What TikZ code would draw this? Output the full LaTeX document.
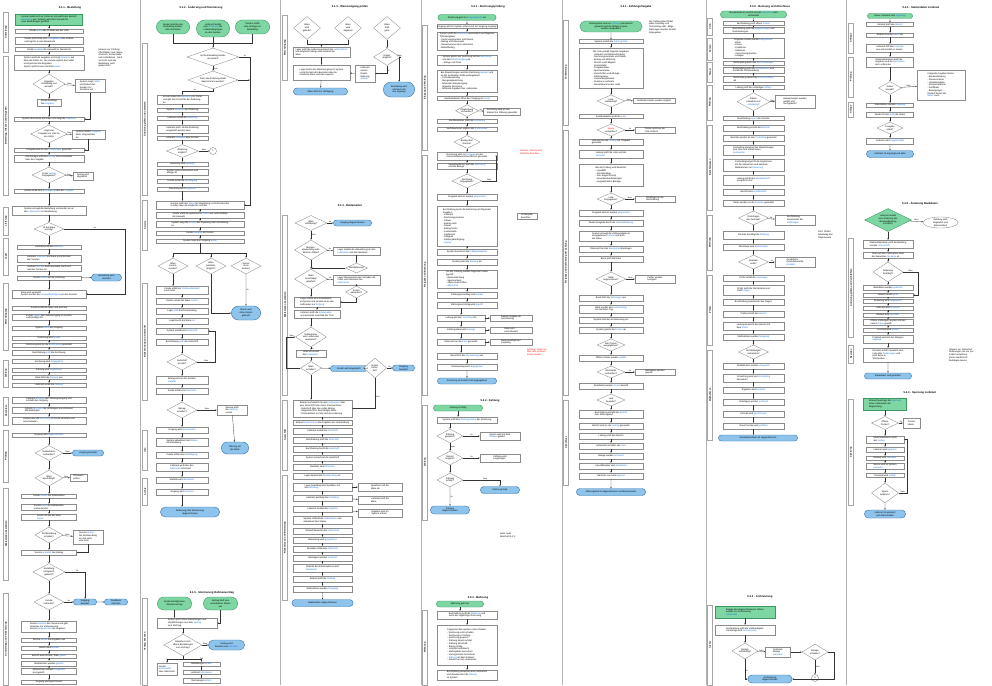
\documentclass[tikz,border=0pt]{standalone}
\usepackage{fontspec}
\setmainfont{Liberation Sans}
\usetikzlibrary{shapes.geometric,shapes.misc,arrows.meta}
\definecolor{gstart}{RGB}{126,214,162}
\definecolor{gline}{RGB}{60,150,100}
\definecolor{bend}{RGB}{142,196,236}
\definecolor{bline}{RGB}{50,110,170}
\definecolor{lkb}{RGB}{22,112,222}
\newcommand\ft{\fontsize{2.3}{2.75}\selectfont}
\newcommand\lk[1]{\textcolor{lkb}{#1}}
\begin{document}
\begin{tikzpicture}[x=1pt, y=-1pt,
  box/.style={draw=black!45, line width=0.35pt, fill=white, inner sep=0.4pt, align=left, font=\ft},
  bx/.style 2 args={box, minimum width=#1, minimum height=#2},
  dec/.style 2 args={diamond, shape aspect=2, draw=black!45, line width=0.35pt, fill=white, inner sep=0pt, align=center, font=\ft, minimum width=#1, minimum height=#2},
  startg/.style 2 args={rounded rectangle, draw=gline, fill=gstart, line width=0.4pt, inner sep=0.4pt, align=center, font=\ft, minimum width=#1, minimum height=#2},
  startr/.style 2 args={rectangle, draw=gline, fill=gstart, line width=0.4pt, inner sep=0.4pt, align=left, font=\ft, minimum width=#1, minimum height=#2},
  startd/.style 2 args={dec={#1}{#2}, draw=gline, fill=gstart},
  endb/.style 2 args={rounded rectangle, draw=bline, fill=bend, line width=0.4pt, inner sep=0.4pt, align=center, font=\ft, minimum width=#1, minimum height=#2},
  endw/.style 2 args={ellipse, draw=black!45, line width=0.35pt, inner sep=0pt, align=center, font=\ft, minimum width=#1, minimum height=#2},
  conn/.style={circle, draw=black!50, line width=0.35pt, minimum size=7, inner sep=0pt, font=\ft},
  lane/.style={draw=black!35, line width=0.3pt, rotate=90, minimum width=#1, minimum height=5, inner sep=0.2pt, font=\ft\bfseries},
  ttl/.style={font=\fontsize{2.7}{3.2}\selectfont\bfseries},
  note/.style={font=\ft, align=left, text width=#1, inner sep=0pt},
  rnote/.style={note=#1, text=red},
  lbl/.style={font=\fontsize{2}{2.4}\selectfont, inner sep=0.3pt},
  arr/.style={draw=black!80, line width=0.3pt, -{Stealth[length=1.6pt,width=1.3pt]}},
  line/.style={draw=black!80, line width=0.3pt},
  sep/.style={draw=black!30, line width=0.5pt}
]
\useasboundingbox (0,0) rectangle (992,685);
\foreach \sx in {140,280,421,562,706,846} \draw[sep] (\sx,0) -- (\sx,685);

% ---------- Spalte 1
\node[ttl] (t1) at (70,8) {5.1.1 - Bestellung};
\node[startr={67}{11}] (a0) at (49,19.5) {Kunde meldet sich im Portal an und wählt den Bereich\\ \lk{Bestellung} aus. Danach wird das Formular für\\ neue Bestellungen geöffnet};
\node[bx={68}{4.5}] (a1) at (49,31) {Kunde \lk{wählt} das Produkt aus der Liste};
\node[bx={68}{7}] (a2) at (49,40.5) {Kunde prüft Preis und \lk{Verfügbarkeit} des Artikels\\ und legt ihn in den Warenkorb};
\node[bx={68}{4}] (a3) at (49,49.5) {Kunde \lk{bestätigt} die Auswahl im Warenkorb};
\node[bx={70}{15}] (a4) at (49,62.5) {System prüft die Angaben und zeigt \lk{Hinweise} auf\\ fehlende Daten an. Der Kunde ergänzt die Felder\\ und speichert die Eingaben.\\ System prüft erneut und leitet \lk{weiter}};
\node[dec={32}{20}] (a5) at (49,84) {Angaben\\ vollständig und\\ korrekt?};
\node[bx={30}{13}] (a5r) at (90,86) {System zeigt \lk{Fehler}\\ und fordert den\\ Kunden zur\\ Korrektur auf};
\node[note=37pt] (n1) at (117,58) {Hinweis zur Prüfung:\\ Pflichtfelder sind Name,\\ Anschrift, Kostenstelle\\ und Lieferdatum. Fehlt\\ ein Feld, wird die\\ Bestellung nicht\\ gespeichert};
\node[bx={24}{7}] (a6) at (49,102.5) {Kunde bestätigt\\ die \lk{Eingaben}};
\node[bx={70}{4}] (a7) at (49,119) {System übernimmt die Daten und zeigt die \lk{Übersicht}};
\node[dec={34}{18}] (a8) at (49,134) {Liegt eine\\ Freigabe vor oder ist\\ sie nötig?};
\node[bx={33}{9}] (a8r) at (88.5,134.5) {System fordert \lk{Freigabe}\\ beim Vorgesetzten\\ an};
\node[bx={70}{4}] (a9) at (49,150) {Freigabe wird an den \lk{Genehmiger} gesendet};
\node[bx={70}{7}] (a10) at (49,158.5) {Genehmiger prüft den \lk{Antrag} und entscheidet\\ über die Freigabe};
\node[dec={34}{16}] (a11) at (49,175) {Ist der \lk{Antrag}\\ freigegeben?};
\node[bx={20}{8}] (a11r) at (83,176) {Antrag wird\\ abgelehnt};
\node[bx={70}{4}] (a12) at (49,191) {Kunde erhält eine \lk{Bestätigung} über die \lk{Freigabe}};
\node[bx={74}{9}] (a13) at (49,210.5) {System erzeugt die Bestellung und sendet sie an\\ den \lk{Lieferanten} zur Bearbeitung};
\node[dec={30}{13}] (a14) at (49,229) {Ist die Ware\\ vorrätig?};
\coordinate (a14c) at (125,229);
\node[bx={64}{4}] (a15) at (49,247) {Lieferant prüft den \lk{Bestand}};
\node[bx={64}{7}] (a16) at (49,258.5) {Lieferant \lk{reserviert} die Ware und informiert\\ den Kunden};
\node[bx={64}{6}] (a17a) at (49,268) {Lieferant \lk{bestellt} beim Hersteller nach und\\ teilt den Termin mit};
\node[bx={64}{4}] (a17) at (49,278) {Kunde \lk{wartet} auf die Lieferung};
\node[endb={31}{7}] (a17r) at (106.5,277.5) {Bestellung wird\\ storniert};
\node[bx={74}{8}] (a18) at (49,294) {Ware wird versandt.\\ System sendet die \lk{Versandbestätigung} an den Kunden};
\node[bx={74}{4}] (a19) at (49,308) {Kunde erhält die Ware und prüft sie};
\node[bx={74}{6}] (a20) at (49,317) {Kunde \lk{meldet} den Wareneingang im System\\ und bestätigt ihn};
\node[bx={74}{4}] (a21) at (49,328) {System \lk{bucht} den Eingang};
\node[bx={74}{4}] (a22) at (49,338) {Rechnung wird \lk{erstellt}};
\node[bx={74}{4}] (a23) at (49,345) {Rechnung wird an die \lk{Buchhaltung} gesendet};
\node[bx={74}{5}] (a24) at (49,352.5) {Buchhaltung \lk{prüft} die Rechnung};
\node[bx={74}{4}] (a25) at (49,361.5) {Rechnung wird \lk{freigegeben}};
\node[bx={74}{4}] (a26) at (49,370) {Zahlung wird \lk{angewiesen}};
\node[bx={74}{4}] (a27) at (49,377.5) {Bank führt die \lk{Zahlung} aus};
\node[bx={74}{4}] (a28) at (49,385) {Lieferant erhält die \lk{Zahlung}};
\node[bx={74}{6}] (a29) at (49,400) {Lieferant \lk{bestätigt} den Zahlungseingang und\\ schließt den Vorgang};
\node[bx={74}{6}] (a30) at (49,410) {System \lk{archiviert} die Unterlagen und informiert\\ alle Beteiligten};
\node[bx={74}{7}] (a31) at (49,420.5) {Kunde kann die \lk{Rechnung} im Portal einsehen und\\ herunterladen};
\node[bx={74}{4}] (a32) at (49,435) {Vorgang wird \lk{abgeschlossen}};
\node[dec={28}{15}] (a33) at (49,453) {Reklamation\\ vorhanden?};
\node[endb={32}{6}] (a33r) at (88,453) {Vorgang beendet};
\node[dec={28}{16}] (a34) at (49,478) {Ware\\ beschädigt?};
\node[bx={17}{7}] (a34r) at (78.5,477.5) {Umtausch\\ prüfen};
\node[bx={55}{4}] (a35) at (49,496) {Kunde \lk{meldet} die Reklamation};
\node[bx={55}{6}] (a36) at (49,507) {Service \lk{prüft} die Reklamation\\ und antwortet};
\node[bx={55}{6}] (a37) at (49,517) {Kunde sendet die Ware\\ \lk{zurück}};
\node[dec={28}{16}] (a38) at (49,535) {Rücksendung\\ erhalten?};
\node[bx={30}{14}] (a38r) at (88,537) {Service \lk{mahnt}\\ die Rücksendung\\ an und setzt\\ eine Frist};
\node[bx={55}{5}] (a39) at (49,552.5) {Service \lk{erstattet} den Betrag};
\node[dec={32}{17}] (a40) at (49,572) {Erstattung\\ erfolgreich\\ gebucht?};
\node[dec={30}{16}] (a41) at (49,602) {Kunde\\ zufrieden?};
\node[endb={24}{6}] (a41r) at (85,602) {Vorgang\\ beendet};
\node[endb={24}{6}] (a41s) at (116,602) {Feedback\\ einholen};
\node[bx={55}{11}] (a42) at (49,626.5) {Kunde \lk{bewertet} den Service und gibt\\ Hinweise zur Verbesserung.\\ Service \lk{dokumentiert} die Angaben};
\node[bx={55}{4}] (a43) at (49,640) {Service \lk{wertet} die Angaben aus};
\node[bx={55}{4}] (a44) at (49,648) {Bericht wird \lk{erstellt}};
\node[bx={55}{4}] (a45) at (49,656) {Bericht wird mit dem Team \lk{geteilt}};
\node[bx={55}{5}] (a46) at (49,663.5) {Maßnahmen werden \lk{geplant}};
\node[bx={55}{6}] (a47) at (49,671.5) {Maßnahmen werden \lk{umgesetzt}\\ und geprüft};
\node[bx={55}{4}] (a48) at (49,682) {Vorgang wird geschlossen};

\node[lane=40] (l1a) at (6,32) {Anmeldung};
\node[lane=139] (l1b) at (6,125.5) {Bestellung erfassen und freigeben};
\node[lane=28] (l1c) at (6,221) {Lieferung};
\node[lane=37] (l1d) at (6,256.5) {Lager};
\node[lane=67] (l1e) at (6,316.5) {Wareneingang};
\node[lane=27] (l1f) at (6,373.5) {Zahlung};
\node[lane=28] (l1g) at (6,411) {Abschluss};
\node[lane=52] (l1h) at (6,456) {Prüfung};
\node[lane=92] (l1i) at (6,534) {Reklamation bearbeiten};
\node[lane=92] (l1j) at (6,639) {Auswertung und Verbesserung};

\foreach \a/\b in {a0/a1,a1/a2,a2/a3,a3/a4,a4/a5,a5/a6,a6/a7,a7/a8,a8/a9,a9/a10,a10/a11,a11/a12,a12/a13,a13/a14,a14/a15,a15/a16,a16/a17a,a17a/a17,a17/a18,a18/a19,a19/a20,a20/a21,a21/a22,a22/a23,a23/a24,a24/a25,a25/a26,a26/a27,a27/a28,a28/a29,a29/a30,a30/a31,a31/a32,a32/a33,a33/a34,a34/a35,a35/a36,a36/a37,a37/a38,a38/a39,a39/a40,a40/a41,a41/a42,a42/a43,a43/a44,a44/a45,a45/a46,a46/a47,a47/a48}
  \draw[arr] (\a) -- (\b);
\draw[arr] (a5) -- node[lbl, above] (la5) {Nein} (a5r);
\draw[arr] (a5r.south) |- (a7.east);
\draw[arr] (a8) -- node[lbl, above] (la8) {Nein} (a8r);
\draw[arr] (a8r.south) |- (a9.east);
\draw[arr] (a11) -- node[lbl, above] (la11) {Nein} (a11r);
\draw[arr] (a14.east) -- node[lbl, above] (la14) {Ja} (a14c) |- (a18.east);
\draw[arr] (a17) -- (a17r);
\draw[arr] (a33) -- node[lbl, above] (la33) {Nein} (a33r);
\draw[arr] (a34) -- node[lbl, above] (la34) {Nein} (a34r);
\draw[arr] (a38) -- node[lbl, above] (la38) {Nein} (a38r);
\draw[arr] (a38r.south) |- (a39.east);
\draw[arr] (a40.east) -| node[lbl, above, pos=0.3] (la40) {Ja} (a41r.north);
\draw[arr] (a41) -- node[lbl, above] (la41) {Ja} (a41r);
\draw[arr] (a41r) -- (a41s);

% ---------- Spalte 2
\node[ttl] (t2) at (201,8) {5.1.2 - Änderung und Stornierung};
\node[startg={34}{14}] (b0a) at (173,27) {Kunde möchte eine\\ Bestellung ändern\\ oder stornieren};
\node[startg={34}{17}] (b0b) at (213,28.5) {Lieferant meldet\\ eine \lk{Änderung} der\\ Lieferbedingungen\\ an den Kunden};
\node[startg={35}{14}] (b0c) at (252.5,27) {Service erhält\\ eine Anfrage zur\\ Bestellung};
\coordinate (b0m) at (213,43);
\node[dec={52}{18}] (b1) at (213,57) {Ist die Bestellung bereits\\ versendet?};
\coordinate (b1c) at (250,57);
\node[dec={50}{18}] (b2) at (213,80) {Kann die Änderung direkt\\ übernommen werden?};
\node[bx={51}{9}] (b3) at (182.5,99.5) {Kunde ändert die \lk{Bestellung} im Portal\\ und gibt den Grund für die Änderung\\ an};
\node[bx={51}{4}] (b4) at (182.5,110) {System \lk{speichert} die Änderung};
\node[bx={51}{4}] (b5) at (182.5,118) {Lieferant erhält die \lk{Änderung}};
\node[bx={51}{8}] (b6) at (182.5,129) {Lieferant prüft, ob die Änderung\\ umgesetzt werden kann};
\node[bx={51}{4}] (b7) at (182.5,138) {Lieferant \lk{antwortet} dem Kunden};
\node[dec={32}{13}] (b8) at (182.5,151) {Änderung\\ möglich?};
\node[conn] (b8c) at (213,151) {1};
\node[bx={51}{4}] (b9) at (182.5,164) {Änderung wird \lk{bestätigt}};
\node[bx={51}{6}] (b10) at (182.5,172) {System passt Liefertermin und\\ Menge an};
\node[bx={51}{4}] (b11) at (182.5,181) {Kunde erhält die \lk{Bestätigung}};
\node[bx={51}{4}] (b12) at (182.5,189) {Rechnung wird \lk{angepasst}};
\node[bx={88}{8}] (b13) at (200,205) {Service prüft den \lk{Stand} der Bestellung und informiert den\\ Kunden über die möglichen Schritte};
\node[bx={88}{6}] (b14) at (200,215) {Kunde wählt die gewünschte \lk{Option} aus und bestätigt\\ die Auswahl};
\node[bx={88}{6}] (b15) at (200,224) {System zeigt die \lk{Kosten} der Änderung oder Stornierung\\ an};
\node[bx={88}{4}] (b16) at (200,233) {Kunde \lk{bestätigt} die Kosten};
\node[bx={88}{4}] (b17) at (200,241) {System leitet den Vorgang \lk{weiter}};
\coordinate (b17m) at (200,253);
\node[dec={30}{16}] (b18) at (173,266) {Ware\\ zurück-\\ senden?};
\node[dec={30}{16}] (b19) at (211,266) {Ware\\ behalten\\ möglich?};
\node[dec={30}{16}] (b20) at (246,266) {Storno\\ ohne\\ Kosten?};
\node[endb={30}{14}] (b21) at (246,313) {Storno wird\\ ohne Kosten\\ gebucht};
\node[bx={52}{8}] (b22) at (182,290) {Kunde erhält ein \lk{Rücksendeetikett}\\ per E-Mail};
\node[bx={52}{6}] (b23) at (182,301) {Kunde sendet die Ware \lk{zurück}};
\node[bx={52}{6}] (b24) at (182,311) {Lager \lk{prüft} die Rücksendung};
\node[bx={52}{6}] (b25) at (182,321) {Lager bucht die Ware \lk{ein}};
\node[bx={52}{6}] (b26) at (182,331) {System erstellt eine \lk{Gutschrift}};
\node[bx={52}{6}] (b27) at (182,342) {Buchhaltung \lk{prüft} die Gutschrift};
\node[dec={30}{16}] (b28) at (182,362) {Gutschrift\\ korrekt?};
\node[bx={52}{8}] (b29) at (182,380) {Betrag wird an den Kunden\\ \lk{erstattet}};
\node[bx={52}{6}] (b30) at (182,391) {Kunde erhält eine \lk{Nachricht}};
\node[dec={30}{16}] (b31) at (182,410) {Betrag\\ erhalten?};
\node[bx={30}{10}] (b32) at (232,410) {Service prüft\\ die \lk{Zahlung}\\ erneut};
\node[endb={28}{12}] (b33) at (235,448) {Klärung mit\\ der Bank};
\node[bx={52}{6}] (b34) at (182,430) {Vorgang wird \lk{dokumentiert}};
\node[bx={52}{8}] (b35) at (182,442) {System aktualisiert den \lk{Status}\\ der Bestellung};
\node[bx={52}{6}] (b36) at (182,455) {Kunde erhält eine \lk{Bestätigung}};
\node[bx={52}{8}] (b37) at (182,467) {Lieferant wird über den\\ \lk{Abschluss} informiert};
\node[bx={52}{6}] (b38) at (182,480) {Statistik wird \lk{aktualisiert}};
\node[bx={52}{6}] (b39) at (182,492) {Vorgang wird \lk{archiviert}};
\node[endb={60}{10}] (b40) at (190,512) {Änderung oder Stornierung\\ abgeschlossen};

\node[lane=152] (l2a) at (145,119) {Änderung prüfen und umsetzen};
\node[lane=50] (l2b) at (145,225) {Service};
\node[lane=117] (l2c) at (145,341.5) {Rücksendung und Gutschrift};
\node[lane=40] (l2d) at (145,450) {Info};
\node[lane=27] (l2e) at (145,491.5) {Archiv};

\draw[line] (b0a.south) |- (b0m);
\draw[line] (b0c.south) |- (b0m);
\draw[arr] (b0b.south) -- (b1.north);
\draw[arr] (b1) -- node[lbl, right] (lb1) {Nein} (b2);
\draw[arr] (b1.east) -- node[lbl, above] (lb1j) {Ja} (b1c) |- (b13.east);
\draw[arr] (b2.east) -- (b2.east -| b1c);
\draw[arr] (b2.south) -- ++(0,2) -| node[lbl, above, pos=0.3] (lb2) {Ja} (b3.north);
\foreach \a/\b in {b3/b4,b4/b5,b5/b6,b6/b7,b7/b8,b8/b9,b9/b10,b10/b11,b11/b12,b13/b14,b14/b15,b15/b16,b16/b17,b22/b23,b23/b24,b24/b25,b25/b26,b26/b27,b27/b28,b28/b29,b29/b30,b30/b31,b31/b34,b34/b35,b35/b36,b36/b37,b37/b38,b38/b39}
  \draw[arr] (\a) -- (\b);
\draw[arr] (b8) -- node[lbl, above] (lb8) {Nein} (b8c);
\draw[arr] (b12.south) -- (b12.south |- b13.north);
\draw[line] (b17.south) -- (b17m);
\draw[arr] (b17m) -| (b18.north);
\draw[arr] (b17m) -| (b20.north);
\draw[arr] (b19.north |- b17m) -- (b19.north);
\draw[arr] (b20) -- node[lbl, right] (lb20) {Ja} (b21);
\draw[arr] (b19.south) |- (b21.west);
\draw[arr] (b18.south) -- (b18.south |- b22.north);
\draw[arr] (b28.east) -- node[lbl, above] (lb28) {Nein} ++(18,0) |- (b26.east);
\draw[arr] (b31) -- node[lbl, above] (lb31) {Nein} (b32);
\draw[arr] (b32) -- (b33);
\draw[arr] (b39.south) -- (b39.south |- b40.north);

% Spalte 2, unten
\node[ttl] (t2b) at (212,593) {5.1.5 - Stornierung Rahmenvertrag};
\node[startg={35}{13}] (b50) at (174.5,603.5) {Kunde kündigt einen\\ Rahmenvertrag};
\node[startg={35}{13}] (b51) at (220.5,603.5) {Vertrag läuft zum\\ vereinbarten Datum\\ aus};
\node[bx={60}{10}] (b52) at (187,623) {System prüft offene Bestellungen und\\ Verpflichtungen aus dem \lk{Vertrag}\\ zum Stichtag};
\node[dec={38}{22}] (b53) at (183,645) {Bestehen noch\\ offene Bestellungen\\ zum Vertrag?};
\node[endb={37}{10}] (b54) at (226.5,645) {Vertrag wird\\ beendet und \lk{archiviert}};
\coordinate (b53c) at (183,659);
\node[bx={20}{12}] (b55) at (167,669) {Kunde\\ \lk{entscheidet}\\ über Abschluss};
\node[bx={37}{4}] (b56) at (201.5,664) {Bestellungen \lk{prüfen}};
\node[bx={37}{4}] (b57) at (201.5,672.5) {Lieferant \lk{informieren}};
\node[bx={37}{5}] (b58) at (201.5,681) {Restmengen \lk{liefern}};
\node[lane=87] (l2f) at (145,641.5) {Vertrag beenden};
\draw[arr] (b50.south) -- (b50.south |- b52.north);
\draw[arr] (b51.south) |- (b52.east);
\draw[arr] (b53.north |- b52.south) -- (b53.north);
\draw[arr] (b53) -- node[lbl, above] (lb53) {Nein} (b54);
\draw[line] (b53.south) -- (b53c);
\draw[arr] (b53c) -| node[lbl, above, pos=0.7] (lb53a) {Ja} (b55.north);
\draw[arr] (b53c) -| node[lbl, above, pos=0.7] (lb53b) {Teil} (b56.north);
\draw[arr] (b56) -- (b57);
\draw[arr] (b57) -- (b58);

% ---------- Spalte 3
\node[ttl] (t3) at (350,7) {5.1.3 - Wareneingang prüfen};
\node[dec={27}{23}] (c1) at (307,28) {Ware\\ wird\\ geliefert};
\node[dec={27}{23}] (c2) at (348,28) {Ware\\ wird\\ abgeholt};
\node[dec={27}{23}] (c3) at (387,28) {Ware\\ fehlt\\ ganz};
\coordinate (c12) at (321.5,44);
\node[bx={57}{10}] (c4) at (321.5,52) {Lager prüft die Lieferung anhand des \lk{Lieferscheins}\\ und vergleicht Menge und Zustand der\\ Ware};
\node[dec={27}{17}] (c5) at (387,57) {Ersatz\\ möglich?};
\node[bx={57}{15}] (c6) at (321.5,72.5) {Lager bucht den Wareneingang im System\\ und informiert den Besteller über die\\ erhaltene Ware und den Lagerort};
\node[bx={20}{17}] (c7) at (365,73.5) {Lieferant\\ sendet\\ Ersatz-\\ lieferung\\ \lk{zeitnah}};
\node[endb={55}{7}] (c8) at (320.5,91.5) {Ware steht zur Verfügung};
\node[endb={32}{15}] (c9) at (399,89.5) {Bestellung wird\\ storniert und\\ neu angelegt};
\node[lane=65] (l3a) at (285,47.5) {Wareneingang};
\draw[line] (c1.south) |- (c12);
\draw[line] (c2.south) |- (c12);
\draw[arr] (c12) -- (c4.north);
\draw[arr] (c3) -- (c5);
\draw[arr] (c4) -- (c6);
\draw[arr] (c5.south) |- node[lbl, right, pos=0.3] (lc5) {Ja} (c7.east);
\draw[arr] (c7) -- (c6);
\draw[arr] (c5.east) -| node[lbl, above, pos=0.3] (lc5n) {Nein} (c9.north);
\draw[arr] (c6) -- (c8);

% Spalte 3, Reklamation
\node[ttl] (t3b) at (350,206) {5.1.4 - Reklamation};
\node[dec={32}{15}] (d1) at (311,223) {Ware\\ vollständig?};
\node[endb={39}{6}] (d1r) at (352.5,223) {Vorgang abgeschlossen};
\node[dec={33}{20}] (d2) at (311,250) {Mengen-\\ abweichung oder\\ falscher Artikel?};
\node[bx={47}{8}] (d2r) at (356.5,251) {Lager meldet die Abweichung an den\\ \lk{Lieferanten} und den Besteller};
\node[dec={22}{10}] (d3) at (356.5,268) {Nachlieferung?};
\node[dec={33}{20}] (d4) at (311,279) {Ware\\ beschädigt\\ geliefert?};
\node[bx={47}{10}] (d4r) at (356.5,280) {Lager dokumentiert den Schaden mit\\ Fotos und informiert den\\ \lk{Lieferanten}};
\node[dec={22}{12}] (d5) at (356.5,292) {Ersatz\\ akzeptiert?};
\node[bx={46}{10}] (d6) at (317,302) {Lager erstellt eine Reklamation\\ im System und sendet sie an den\\ Lieferanten zur \lk{Prüfung}};
\node[bx={46}{8}] (d7) at (317,314) {Lieferant prüft die \lk{Reklamation}\\ und antwortet innerhalb der Frist};
\node[dec={31}{20}] (d8) at (311,337) {Reklamation\\ vom Lieferanten\\ anerkannt?};
\node[bx={30}{7}] (d9) at (311,353.5) {Lieferant sendet\\ die \lk{Ersatzware}};
\node[dec={21}{13}] (d10) at (311,368) {Ware\\ erhalten?};
\node[endb={38}{6}] (d10r) at (349,368.5) {Ersatz wird eingebucht};
\node[dec={23}{20}] (d11) at (375,368) {Ersatz\\ fehler-\\ frei?};
\node[endb={23}{6}] (d11r) at (403.5,368) {Vorgang\\ beendet};
\node[bx={59}{17}] (d12) at (322.5,408.5) {Einkauf verhandelt mit dem \lk{Lieferanten} über\\ eine Gutschrift oder einen Preisnachlass:\\ - Gutschrift über den vollen Betrag\\ - Teilgutschrift für beschädigte Ware\\ - Preisnachlass auf die nächste Lieferung};
\node[bx={59}{5}] (d13) at (322.5,422.5) {Einkauf \lk{dokumentiert} das Ergebnis der Verhandlung};
\node[bx={59}{6}] (d14) at (322.5,431) {Lieferant erstellt die \lk{Gutschrift}};
\node[bx={59}{6}] (d15) at (322.5,440) {Buchhaltung prüft die \lk{Gutschrift}};
\node[bx={59}{6}] (d16) at (322.5,449) {Buchhaltung bucht die \lk{Gutschrift}};
\node[bx={59}{6}] (d17) at (322.5,458) {System verrechnet die Gutschrift};
\node[bx={59}{6}] (d18) at (322.5,467) {Besteller wird \lk{informiert}};
\node[bx={59}{6}] (d19) at (322.5,476) {Lager bereitet die \lk{Rücksendung} vor};
\node[bx={59}{8}] (d20) at (322.5,487) {Lager beauftragt den Spediteur mit\\ der \lk{Abholung}};
\node[bx={44}{8}] (d20r) at (380,487) {Spediteur holt die\\ Ware ab};
\node[bx={59}{6}] (d21) at (322.5,498) {Lieferant bestätigt den \lk{Empfang}};
\node[bx={44}{8}] (d21r) at (380,500) {Lieferant prüft die\\ Ware};
\node[bx={59}{6}] (d22) at (322.5,509) {Lieferant meldet das \lk{Ergebnis}};
\node[bx={44}{8}] (d22r) at (380,513) {Ergebnis wird im\\ System erfasst};
\node[bx={59}{8}] (d23) at (322.5,520) {System schließt die \lk{Reklamation} und\\ aktualisiert den Status};
\node[bx={59}{6}] (d24) at (322.5,531) {Einkauf bewertet den \lk{Lieferanten}};
\node[bx={59}{6}] (d25) at (322.5,540) {Bewertung wird \lk{gespeichert}};
\node[bx={59}{6}] (d26) at (322.5,549) {Besteller erhält eine \lk{Nachricht}};
\node[bx={59}{6}] (d27) at (322.5,558) {Unterlagen werden \lk{archiviert}};
\node[bx={59}{8}] (d28) at (322.5,568) {Statistik der Reklamationen wird\\ \lk{aktualisiert}};
\node[bx={59}{6}] (d29) at (322.5,579) {Einkauf prüft die \lk{Statistik}};
\node[bx={59}{6}] (d30) at (322.5,589) {Maßnahmen werden \lk{festgelegt}};
\node[endb={62}{7}] (d31) at (322.5,603) {Reklamation abgeschlossen};
\node[lane=180] (l3b) at (285,305) {Reklamation bearbeiten};
\node[lane=70] (l3c) at (285,435) {Gutschrift};
\node[lane=125] (l3d) at (285,537.5) {Rückversand und Bewertung};
\draw[arr] (d1) -- node[lbl, above] (ld1) {Ja} (d1r);
\draw[arr] (d1) -- node[lbl, right] (ld1n) {Nein} (d2);
\draw[arr] (d2) -- node[lbl, above] (ld2) {Ja} (d2r);
\draw[arr] (d2r) -- (d3);
\draw[arr] (d3.west) -- (d3.west -| d2.south);
\draw[arr] (d2) -- (d4);
\draw[arr] (d4) -- node[lbl, above] (ld4) {Ja} (d4r);
\draw[arr] (d4r) -- (d5);
\draw[arr] (d5.south) |- (d6.east);
\draw[arr] (d4.south) -- (d4.south |- d6.north);
\draw[arr] (d6.south -| d7) -- (d7.north);
\draw[arr] (d7.south -| d8) -- (d8.north);
\draw[arr] (d8) -- node[lbl, right] (ld8) {Ja} (d9);
\draw[arr] (d9) -- (d10);
\draw[arr] (d10.west) -- ++(-14,0) |- node[lbl, above, pos=0.8] (ld10) {Nein} (d8.west);
\draw[arr] (d10) -- (d10r);
\draw[arr] (d10r) -- (d11);
\draw[arr] (d11) -- node[lbl, above] (ld11) {Ja} (d11r);
\draw[arr] (d10.south) -- (d10.south |- d12.north);
\draw[arr] (d11.south) |- node[lbl, right, pos=0.3] (ld11n) {Nein} (d12.east);
\foreach \a/\b in {d12/d13,d13/d14,d14/d15,d15/d16,d16/d17,d17/d18,d18/d19,d19/d20,d20/d21,d21/d22,d22/d23,d23/d24,d24/d25,d25/d26,d26/d27,d27/d28,d28/d29,d29/d30,d30/d31}
  \draw[arr] (\a) -- (\b);
\draw[arr] (d20) -- (d20r);
\draw[arr] (d21) -- (d21r);
\draw[arr] (d22) -- (d22r);

% ---------- Spalte 4
\node[ttl] (t4) at (488,7) {5.2.1 - Rechnungsprüfung};
\node[startg={59}{6}] (e0) at (467,17.5) {Rechnung geht im \lk{Eingangsportal} ein};
\node[bx={60}{4}] (e1) at (467,26.5) {Eingang wird im System erfasst und ein Vorgang angelegt};
\node[bx={60}{18}] (e2) at (467,41) {System prüft die \lk{Rechnung} automatisch auf folgende\\ Pflichtangaben:\\ - Rechnungsnummer und Datum\\ - Betrag und Steuersatz\\ - Steuernummer des Lieferanten\\ - Bestellbezug};
\node[bx={60}{10}] (e3) at (467,60) {System gleicht die Rechnung mit der \lk{Bestellung}\\ und dem \lk{Wareneingang} ab:\\ - Menge und Preis};
\node[bx={60}{22}] (e4) at (467,81) {Bei Abweichungen wird die Rechnung \lk{markiert} und\\ an die zuständige Stelle weitergeleitet:\\ - Preisabweichung\\ - Mengenabweichung\\ - fehlender Wareneingang\\ - doppelte Rechnung\\ - fehlende Angaben des Lieferanten};
\node[bx={60}{4}] (e5) at (467,98.5) {Sachbearbeiter öffnet den Vorgang im \lk{Portal}};
\node[dec={23}{12}] (e6) at (467,110.7) {Abweichung\\ vorhanden?};
\node[bx={37}{7}] (e6r) at (502,111.5) {Rechnung wird an den\\ Einkauf zur Klärung gesendet};
\node[bx={60}{4}] (e7) at (467,121) {Sachbearbeiter prüft die \lk{Kontierung}};
\node[bx={60}{4}] (e8) at (467,129) {Sachbearbeiter ergänzt die \lk{Kostenstelle}};
\node[dec={26}{13}] (e9) at (467,142) {Betrag über\\ Grenze?};
\node[rnote=34pt] (e9r) at (537,152) {Hinweis: Grenze laut\\ Richtlinie beachten};
\node[bx={60}{8}] (e10) at (467,156) {Rechnung wird zur \lk{Freigabe} an den\\ Kostenstellenverantwortlichen gesendet};
\node[bx={60}{6}] (e11) at (467,166) {Verantwortlicher prüft die \lk{Rechnung}\\ und die Belege};
\node[dec={30}{14}] (e12) at (467,181) {Rechnung\\ freigegeben?};
\node[bx={60}{6}] (e13) at (467,197) {Freigabe wird im System \lk{gespeichert}};
\node[bx={60}{40}] (e14) at (467,226) {Buchhaltung bucht die Rechnung mit folgenden\\ Angaben:\\ - Lieferant\\ - Rechnungsnummer\\ - Datum\\ - Betrag netto\\ - Steuer\\ - Betrag brutto\\ - Kostenstelle\\ - Sachkonto\\ - Fälligkeit\\ - Zahlungsbedingung\\ - \lk{Skonto}};
\node[bx={20}{6}] (e14r) at (527,216) {Kontenplan\\ beachten};
\node[bx={60}{6}] (e15) at (467,252) {System berechnet das \lk{Fälligkeitsdatum}};
\node[bx={60}{6}] (e16) at (467,262) {System plant die \lk{Zahlung} ein};
\node[bx={60}{18}] (e17) at (467,279) {Vor der Zahlung werden folgende Punkte\\ geprüft:\\ - Bankverbindung\\ - Sperrvermerk\\ - offene Gutschriften\\ - \lk{Skontofrist}};
\node[bx={60}{6}] (e18) at (467,295) {Zahlungsvorschlag wird \lk{erstellt}};
\node[bx={60}{6}] (e19) at (467,305) {Zahlungsvorschlag wird \lk{geprüft}};
\node[bx={48}{6}] (e20) at (461,318) {Leitung gibt den \lk{Vorschlag} frei};
\node[bx={42}{6}] (e20r) at (511,318) {Zweite Freigabe ab\\ Grenzbetrag};
\node[bx={48}{6}] (e21) at (461,330) {Zahlungsdatei wird \lk{erzeugt}};
\node[bx={42}{6}] (e21r) at (511,330) {Datei wird\\ verschlüsselt};
\node[bx={48}{6}] (e22) at (461,342) {Datei wird an die \lk{Bank} gesendet};
\node[bx={42}{6}] (e22r) at (511,342) {Bank bestätigt den\\ Empfang};
\node[rnote=30pt] (e22n) at (542,352) {Achtung: Datei nur\\ über den sicheren\\ Kanal senden};
\node[bx={60}{6}] (e23) at (467,356) {Bank führt die \lk{Überweisung} aus};
\node[bx={60}{6}] (e24) at (467,367) {Kontoauszug wird \lk{abgeglichen}};
\node[endb={60}{6}] (e25) at (467,381) {Rechnung ist bezahlt und ausgeglichen};
\draw[arr] (e0) -- (e1);
\foreach \a/\b in {e1/e2,e2/e3,e3/e4,e4/e5,e5/e6,e6/e7,e7/e8,e8/e9,e9/e10,e10/e11,e11/e12,e12/e13,e13/e14,e14/e15,e15/e16,e16/e17,e17/e18,e18/e19,e20/e21,e21/e22,e23/e24,e24/e25}
  \draw[arr] (\a) -- (\b);
\draw[arr] (e6) -- node[lbl, above] (le6) {Ja} (e6r);
\draw[arr] (e12.east) -- node[lbl, above] (le12) {Nein} ++(14,0) |- (e10.east);
\draw[arr] (e19.south -| e20) -- (e20.north);
\draw[arr] (e20) -- (e20r);
\draw[arr] (e21) -- (e21r);
\draw[arr] (e22) -- (e22r);
\draw[arr] (e22.south) -- (e22.south |- e23.north);

\node[ttl] (t4b) at (490,401) {5.2.2 - Zahlung};
\node[startg={50}{6}] (e30) at (458,408) {Zahlung ist fällig};
\node[bx={60}{6}] (e31) at (467,420) {System prüft den \lk{Zahlungsstatus} der Rechnung};
\node[dec={26}{14}] (e32) at (450,436) {Zahlung\\ gesperrt?};
\node[bx={40}{8}] (e32r) at (500,436) {Sperre wird mit dem\\ \lk{Einkauf} geklärt};
\node[dec={26}{14}] (e33) at (450,458) {Skonto\\ möglich?};
\node[bx={40}{8}] (e33r) at (500,458) {Zahlung wird\\ vorgezogen};
\node[dec={26}{14}] (e34) at (450,480) {Zahlung\\ erfolgt?};
\node[endb={40}{7}] (e34r) at (500,490) {Mahnung folgt};
\node[endb={40}{8}] (e35) at (450,510) {Zahlung\\ abgeschlossen};
\node[note=22pt] (e36) at (511,535) {siehe auch\\ Abschnitt 5.2.3};
\draw[arr] (e30.south) -- (e30.south |- e31.north);
\draw[arr] (e31.south -| e32) -- (e32.north);
\draw[arr] (e32) -- node[lbl, above] (le32) {Ja} (e32r);
\draw[arr] (e32) -- node[lbl, right] (le32n) {Nein} (e33);
\draw[arr] (e33) -- node[lbl, above] (le33) {Ja} (e33r);
\draw[arr] (e33) -- (e34);
\draw[arr] (e34.east) -| node[lbl, above, pos=0.3] (le34) {Nein} (e34r.north);
\draw[arr] (e34) -- node[lbl, right] (le34j) {Ja} (e35);

\node[ttl] (t4c) at (478,598) {5.2.3 - Mahnung};
\node[startg={48}{6}] (e40) at (460,604) {Mahnung geht ein};
\node[bx={60}{8}] (e41) at (467,615) {Buchhaltung prüft die \lk{Mahnung} und\\ sucht die zugehörige Rechnung};
\node[bx={60}{40}] (e42) at (467,645) {Folgende Fälle werden unterschieden:\\ - Rechnung nicht erhalten\\ - Rechnung in Prüfung\\ - Rechnung gesperrt\\ - Zahlung bereits erfolgt\\ - Zahlung fehlerhaft\\ - Betrag strittig\\ - Lieferant unbekannt\\ - Mahngebühr berechnet\\ - Verzugszinsen berechnet\\ - \lk{Klärung} mit dem Einkauf\\ - Antwort an den Lieferanten};
\node[bx={60}{10}] (e43) at (467,675) {Buchhaltung antwortet dem Lieferanten\\ und dokumentiert die \lk{Klärung}\\ im System};
\draw[arr] (e40.south) -- (e40.south |- e41.north);
\draw[arr] (e41) -- (e42);
\draw[arr] (e42) -- (e43);

\node[lane=125] (l4a) at (425,87.5) {Eingang und Prüfung};
\node[lane=240] (l4b) at (425,275) {Freigabe und Buchung};
\node[lane=115] (l4c) at (425,462.5) {Zahlung};
\node[lane=75] (l4d) at (425,647.5) {Mahnung};

% ---------- Spalte 5
\node[ttl] (t5) at (636,7) {5.3.1 - Zahlungsfreigabe};
\node[startg={63}{11}] (f0) at (611,26.5) {Zahlungslauf wird am \lk{Stichtag} automatisch\\ gestartet und die fälligen Posten\\ werden ausgewählt};
\node[note=43pt] (n5) at (670.5,27) {Der Zahlungslauf findet\\ jeden Dienstag und\\ Donnerstag statt. Eilige\\ Zahlungen werden einzeln\\ freigegeben};
\node[bx={64}{4}] (f1) at (611,41.5) {System erstellt die \lk{Zahlungsliste}};
\node[bx={64}{40}] (f2) at (611,68) {Die Liste enthält folgende Angaben:\\ - Lieferant und Bankverbindung\\ - Rechnungsnummer und Datum\\ - Betrag und Währung\\ - Skonto und Fälligkeit\\ - Kostenstelle\\ - Freigabestatus\\ - Sperrvermerke\\ - Gutschriften und Abzüge\\ - Zahlungsweg\\ - Verwendungszweck\\ - Summe je Lieferant\\ - Gesamtsumme des Laufs};
\node[dec={28}{12}] (f3) at (611,101) {Liste\\ vollständig?};
\node[bx={42}{5}] (f3r) at (654,100.5) {Fehlende Posten werden ergänzt};
\node[bx={64}{4}] (f4) at (611,116.5) {Sachbearbeiter prüft die \lk{Liste}};
\node[dec={28}{12}] (f5) at (611,130) {\textcolor{red}{Sperre}\\ vorhanden?};
\node[bx={40}{6}] (f5r) at (655,130) {Posten wird aus der\\ Liste entfernt};
\node[bx={64}{6}] (f6) at (611,142) {Liste wird an die \lk{Leitung} zur Freigabe\\ gesendet};
\node[bx={64}{8}] (f7) at (611,154) {Leitung prüft die Liste und die\\ \lk{Summen}};
\node[bx={64}{22}] (f8) at (611,175) {Bei der Prüfung wird beachtet:\\ - Liquidität\\ - Grenzbeträge\\ - Vier-Augen-Prinzip\\ - neue Bankverbindungen\\ - ungewöhnliche Beträge};
\node[dec={28}{12}] (f9) at (611,199) {Liste\\ freigegeben?};
\node[bx={40}{6}] (f9r) at (655,199) {Rückfrage an die\\ Buchhaltung};
\node[bx={64}{6}] (f10) at (611,213) {Freigabe wird im System \lk{gespeichert}};
\node[bx={64}{6}] (f11) at (611,223) {Zweite Freigabe durch die \lk{Geschäftsleitung}};
\node[bx={64}{10}] (f12) at (611,236) {System erzeugt die Zahlungsdatei im\\ vorgegebenen \lk{Format} und prüft\\ die Daten};
\node[bx={64}{6}] (f13) at (611,249) {Datei wird an das \lk{Bankportal} übertragen};
\node[bx={64}{6}] (f14) at (611,259) {Bank prüft die Datei};
\node[dec={30}{14}] (f15) at (611,279) {Datei\\ angenommen?};
\node[bx={40}{8}] (f15r) at (655,279) {Fehler werden\\ korrigiert};
\node[bx={64}{6}] (f16) at (611,298) {Bank führt die \lk{Zahlungen} aus};
\node[bx={64}{8}] (f17) at (611,309) {Bank sendet den \lk{Kontoauszug}\\ am nächsten Tag};
\node[bx={64}{6}] (f18) at (611,320) {System liest den Kontoauszug ein};
\node[bx={64}{6}] (f19) at (611,330) {System gleicht die \lk{Posten} ab};
\node[dec={28}{12}] (f20) at (611,345) {Alle Posten\\ ausgeglichen?};
\node[bx={64}{6}] (f21) at (611,358) {Offene Posten werden \lk{geklärt}};
\node[dec={28}{12}] (f22) at (611,372) {Rückläufer\\ vorhanden?};
\node[bx={40}{6}] (f22r) at (655,372) {Bankdaten werden\\ geprüft};
\node[bx={64}{6}] (f23) at (611,386) {Rückläufer werden \lk{erneut} bezahlt};
\node[dec={28}{12}] (f24) at (611,400) {Lauf\\ beendet?};
\node[bx={64}{8}] (f25) at (611,414) {Buchhaltung erstellt den \lk{Bericht}\\ zum Zahlungslauf};
\node[bx={64}{6}] (f26) at (611,426) {Bericht wird an die \lk{Leitung} gesendet};
\node[bx={64}{6}] (f27) at (611,436) {Leitung prüft den Bericht};
\node[bx={64}{6}] (f28) at (611,446) {Lieferanten erhalten den \lk{Avis}};
\node[bx={64}{6}] (f29) at (611,456) {Belege werden \lk{archiviert}};
\node[bx={64}{6}] (f30) at (611,466) {Liquiditätsplan wird \lk{aktualisiert}};
\node[bx={64}{6}] (f31) at (611,476) {Nächster Lauf wird \lk{geplant}};
\node[endb={70}{7}] (f32) at (611,492) {Zahlungslauf ist abgeschlossen und dokumentiert};
\foreach \a/\b in {f0/f1,f1/f2,f2/f3,f3/f4,f4/f5,f5/f6,f6/f7,f7/f8,f8/f9,f9/f10,f10/f11,f11/f12,f12/f13,f13/f14,f14/f15,f15/f16,f16/f17,f17/f18,f18/f19,f19/f20,f20/f21,f21/f22,f22/f23,f23/f24,f24/f25,f25/f26,f26/f27,f27/f28,f28/f29,f29/f30,f30/f31,f31/f32}
  \draw[arr] (\a) -- (\b);
\draw[arr] (f3) -- node[lbl, above] (lf3) {Nein} (f3r);
\draw[arr] (f5) -- node[lbl, above] (lf5) {Ja} (f5r);
\draw[arr] (f9) -- node[lbl, above] (lf9) {Nein} (f9r);
\draw[arr] (f15) -- node[lbl, above] (lf15) {Nein} (f15r);
\draw[arr] (f22) -- node[lbl, above] (lf22) {Ja} (f22r);
\node[lane=105] (l5a) at (566,72.5) {Vorbereitung};
\node[lane=265] (l5b) at (566,262.5) {Freigabe und Ausführung der Zahlung};
\node[lane=85] (l5c) at (566,442.5) {Abschluss};

% ---------- Spalte 6
\node[ttl] (t6) at (770,7) {5.3.2 - Buchung und Abschluss};
\node[startg={67}{7}] (g0) at (753.5,14.5) {Monatsende ist erreicht und der \lk{Abschluss} wird\\ vorbereitet};
\node[bx={61}{4}] (g1) at (753.5,23.5) {Buchhaltung prüft offene \lk{Posten}};
\node[bx={61}{6}] (g2) at (753.5,30.5) {Buchhaltung prüft die \lk{Abgrenzungen} und\\ Rückstellungen};
\node[bx={61}{20}] (g3) at (753.5,48) {Folgende Konten werden \lk{abgestimmt}:\\ - Bank\\ - Kasse\\ - Kreditoren\\ - Debitoren\\ - Verrechnungskonten\\ - Anlagen};
\node[bx={61}{4}] (g4) at (753.5,63) {Buchhaltung bucht die \lk{Abschreibungen}};
\node[bx={61}{6}] (g5) at (753.5,70) {Buchhaltung prüft die \lk{Umsatzsteuer} und\\ erstellt die Voranmeldung};
\node[bx={61}{6}] (g6) at (753.5,79) {Buchhaltung stimmt die \lk{Konzernkonten}\\ ab};
\node[bx={61}{4}] (g7) at (753.5,87.5) {Leitung prüft die vorläufigen \lk{Zahlen}};
\node[dec={33}{18}] (g8) at (753.5,101.7) {Zahlen\\ plausibel und\\ \lk{vollständig}?};
\node[bx={40}{13}] (g8r) at (795,101.5) {Abweichungen werden\\ geklärt und\\ nachgebucht};
\node[bx={61}{4}] (g9) at (753.5,118.5) {Buchhaltung \lk{sperrt} die Periode};
\node[bx={61}{6}] (g10) at (753.5,128) {Buchhaltung erstellt die \lk{Berichte}};
\node[bx={61}{6}] (g11) at (753.5,138) {Berichte werden an das \lk{Controlling} gesendet};
\node[bx={61}{10}] (g12) at (753.5,150) {Controlling analysiert die Abweichungen\\ zum Plan und erstellt einen\\ \lk{Kommentar}};
\node[bx={61}{12}] (g13) at (753.5,165) {Controlling bespricht die Ergebnisse\\ mit den Bereichen und sammelt\\ Maßnahmen zur \lk{Steuerung}};
\node[bx={61}{10}] (g14) at (753.5,180) {Leitung erhält den \lk{Monatsbericht}\\ und gibt ihn frei};
\node[bx={61}{6}] (g15) at (753.5,192) {Bericht wird \lk{veröffentlicht}};
\node[bx={61}{6}] (g16) at (753.5,203) {Daten werden an die \lk{Zentrale} gemeldet};
\node[dec={30}{14}] (g17) at (753.5,218) {Rückfragen\\ der Zentrale?};
\node[bx={40}{10}] (g17r) at (795,220) {Buchhaltung\\ beantwortet die\\ \lk{Rückfragen}};
\node[note=26pt] (n6) at (831,235) {Frist: fünfter\\ Arbeitstag des\\ Folgemonats};
\node[bx={61}{8}] (g18) at (753.5,235) {Zentrale bestätigt die \lk{Meldung}};
\node[bx={61}{6}] (g19) at (753.5,247) {Abschluss wird \lk{dokumentiert}};
\node[dec={30}{14}] (g20) at (753.5,262) {Quartals-\\ ende?};
\node[bx={40}{10}] (g20r) at (795,262) {Zusätzliche\\ Quartalsberichte\\ \lk{erstellen}};
\node[bx={61}{6}] (g21) at (753.5,278) {Prüfer erhält die \lk{Unterlagen}};
\node[bx={61}{10}] (g22) at (753.5,290) {Prüfer prüft die Stichproben und\\ stellt \lk{Fragen}};
\node[bx={61}{6}] (g23) at (753.5,302) {Buchhaltung beantwortet die Fragen};
\node[bx={61}{6}] (g24) at (753.5,314) {Prüfer erstellt den \lk{Bericht}};
\node[bx={61}{8}] (g25) at (753.5,326) {Leitung bespricht den Bericht mit\\ dem \lk{Prüfer}};
\node[bx={61}{6}] (g26) at (753.5,337) {Maßnahmen werden \lk{festgelegt}};
\node[dec={30}{14}] (g27) at (753.5,352) {Feststellungen\\ vorhanden?};
\node[bx={61}{6}] (g28) at (753.5,366) {Maßnahmen werden \lk{umgesetzt}};
\node[bx={61}{8}] (g29) at (753.5,378) {Umsetzung wird vom \lk{Controlling}\\ überwacht};
\node[bx={61}{6}] (g30) at (753.5,390) {Ergebnis wird \lk{berichtet}};
\node[bx={61}{6}] (g31) at (753.5,402) {Unterlagen werden \lk{archiviert}};
\node[bx={61}{6}] (g32) at (753.5,414) {Periode wird \lk{geschlossen}};
\node[bx={61}{6}] (g33) at (753.5,426) {Neue Periode wird \lk{geöffnet}};
\node[endb={80}{6}] (g34) at (758,438) {Monatsabschluss ist abgeschlossen};
\foreach \a/\b in {g0/g1,g1/g2,g2/g3,g3/g4,g4/g5,g5/g6,g6/g7,g7/g8,g8/g9,g9/g10,g10/g11,g11/g12,g12/g13,g13/g14,g14/g15,g15/g16,g16/g17,g17/g18,g18/g19,g19/g20,g20/g21,g21/g22,g22/g23,g23/g24,g24/g25,g25/g26,g26/g27,g27/g28,g28/g29,g29/g30,g30/g31,g31/g32,g32/g33}
  \draw[arr] (\a) -- (\b);
\draw[arr] (g33.south) -- (g33.south |- g34.north);
\draw[arr] (g8) -- node[lbl, above] (lg8) {Nein} (g8r);
\draw[arr] (g17) -- node[lbl, above] (lg17) {Ja} (g17r);
\draw[arr] (g20) -- node[lbl, above] (lg20) {Ja} (g20r);
\node[lane=17] (l6a) at (710,26.5) {Vorb.};
\node[lane=22] (l6b) at (710,49) {Konten};
\node[lane=20] (l6c) at (710,72) {Steuer};
\node[lane=35] (l6d) at (710,102.5) {Prüfung};
\node[lane=85] (l6e) at (710,167.5) {Berichtswesen};
\node[lane=55] (l6f) at (710,242.5) {Meldung};
\node[lane=70] (l6g) at (710,310) {Prüfer};
\node[lane=90] (l6h) at (710,395) {Maßnahmen};

\node[ttl] (t6b) at (760,597) {5.3.3 - Archivierung};
\node[startr={60}{12}] (g40) at (745,612) {Belege des abgeschlossenen Jahres\\ werden zur Archivierung\\ \lk{vorbereitet}};
\node[bx={60}{10}] (g41) at (745,630) {Buchhaltung prüft die Vollständigkeit\\ der Belege und \lk{Verzeichnisse}};
\node[dec={26}{16}] (g42) at (745,651) {Belege\\ vollständig?};
\node[bx={25}{10}] (g42r) at (778,652) {Fehlende\\ Belege\\ \lk{anfordern}};
\node[dec={26}{16}] (g43) at (815,652) {Belege\\ erhalten?};
\node[endb={45}{8}] (g44) at (770,679) {Archivierung\\ abgeschlossen};
\node[conn] (g45) at (815,678) {2};
\node[lane=80] (l6i) at (710,645) {Archiv};
\draw[arr] (g40) -- (g41);
\draw[arr] (g41) -- (g42);
\draw[arr] (g42) -- node[lbl, above] (lg42) {Nein} (g42r);
\draw[arr] (g42r) -- (g43);
\draw[arr] (g42.south) |- node[lbl, right, pos=0.3] (lg42j) {Ja} (g44.west);
\draw[arr] (g43) -- node[lbl, right] (lg43) {Nein} (g45);
\draw[arr] (g43.east) -- ++(6,0) |- (g44.east);

% ---------- Spalte 7
\node[ttl] (t7) at (921,8) {5.4.1 - Stammdaten Lieferant};
\node[startg={46}{5}] (h0) at (890,16) {Neuer Lieferant wird \lk{angefragt}};
\node[bx={47}{4}] (h1) at (890,24.5) {Einkauf prüft den \lk{Bedarf}};
\node[bx={47}{4}] (h2) at (890,35) {Einkauf holt die \lk{Daten} ein};
\node[bx={47}{8}] (h3) at (890,48) {Lieferant füllt das \lk{Formular}\\ aus und sendet es zurück};
\node[bx={47}{10}] (h4) at (890,62) {Stammdatenteam prüft die\\ Angaben und die \lk{Nachweise}\\ des Lieferanten};
\node[dec={23}{13}] (h5) at (890,88) {Daten\\ korrekt?};
\node[bx={48}{30}] (h5r) at (941,85) {Folgende Angaben fehlen:\\ - Bankverbindung\\ - Steuernummer\\ - Handelsregister\\ - Ansprechpartner\\ - Zertifikate\\ - Bedingungen\\ Einkauf fordert die\\ \lk{Daten} nach};
\node[bx={47}{4}] (h6) at (890,105) {Stammdaten werden \lk{angelegt}};
\node[bx={47}{5}] (h7) at (890,114.5) {Zweite Person \lk{prüft} die Daten};
\node[dec={26}{12}] (h8) at (890,128) {Freigabe\\ erteilt?};
\node[bx={47}{6}] (h9) at (890,141) {Lieferant wird \lk{freigeschaltet}};
\node[endb={48}{7}] (h9e) at (890,154) {Lieferant ist angelegt und aktiv};
\foreach \a/\b in {h0/h1,h1/h2,h2/h3,h3/h4,h4/h5,h5/h6,h6/h7,h7/h8,h8/h9,h9/h9e}
  \draw[arr] (\a) -- (\b);
\draw[arr] (h5) -- node[lbl, above] (lh5) {Nein} (h5r);
\node[lane=30] (l7a) at (851,38) {Anfrage};
\node[lane=40] (l7b) at (851,77) {Prüfung};
\node[lane=15] (l7c) at (851,109.5) {Anlage};

\node[ttl] (t7b) at (920,204) {5.4.2 - Änderung Bankdaten};
\node[startd={47}{23}] (h10) at (888,220) {Lieferant meldet\\ eine Änderung der\\ Bankverbindung\\ schriftlich};
\node[endw={35}{11}] (h10r) at (940.5,222.5) {Meldung wird\\ abgelehnt und\\ dokumentiert};
\node[bx={50}{8}] (h11) at (888,244) {Stammdatenteam prüft die Meldung\\ und die \lk{Unterschrift}};
\node[bx={50}{6}] (h12) at (888,255) {Team ruft den Lieferanten unter\\ der bekannten \lk{Nummer} an};
\node[dec={30}{20}] (h13) at (888,272) {Änderung\\ bestätigt?};
\node[bx={50}{5}] (h14) at (888,287.5) {Bankdaten werden \lk{geändert}};
\node[bx={50}{4}] (h15) at (888,295) {Zweite Person \lk{prüft}};
\node[bx={50}{4}] (h16) at (888,301) {Änderung wird \lk{freigegeben}};
\node[bx={50}{4}] (h17) at (888,308) {Lieferant wird \lk{informiert}};
\node[bx={50}{4}] (h18) at (888,315) {Einkauf wird \lk{informiert}};
\node[bx={50}{6}] (h19) at (888,322.5) {Offene Zahlungen werden mit den\\ neuen \lk{Daten} geprüft};
\node[bx={50}{4}] (h20) at (888,330) {Protokoll wird \lk{erstellt}};
\node[bx={50}{8}] (h21) at (888,339) {Protokoll wird mit den Belegen\\ \lk{abgelegt}};
\node[bx={50}{14}] (h22) at (888,355) {Revision erhält monatlich eine\\ Liste aller \lk{Änderungen} und\\ prüft diese in\\ Stichproben};
\node[endb={48}{6}] (h23) at (888,376) {Bankdaten sind geändert};
\node[note=34pt] (n7) at (966,355) {Hinweis zur Sicherheit:\\ Änderungen nie nur per\\ E-Mail annehmen.\\ Immer telefonisch\\ bestätigen lassen};
\draw[arr] (h10) -- node[lbl, above] (lh10) {Nein} (h10r);
\foreach \a/\b in {h10/h11,h11/h12,h12/h13,h13/h14,h14/h15,h15/h16,h16/h17,h17/h18,h18/h19,h19/h20,h20/h21,h21/h22,h22/h23}
  \draw[arr] (\a) -- (\b);
\draw[arr] (h13.east) -- node[lbl, above] (lh13) {Nein} ++(15,0) |- (h15.east);
\node[lane=99] (l7d) at (851,287.5) {Änderung prüfen und durchführen};
\node[lane=18] (l7e) at (851,354) {Revision};

\node[ttl] (t7c) at (920,393) {5.4.3 - Sperrung Lieferant};
\node[startr={43}{12}] (h30) at (885,404) {Einkauf beantragt die \lk{Sperrung}\\ eines Lieferanten mit\\ Begründung};
\node[dec={27}{13}] (h31) at (885,423) {Offene\\ Posten?};
\node[bx={17}{10}] (h31r) at (911.5,423) {Posten\\ klären};
\node[bx={38}{7}] (h32) at (885,439.5) {Stammdatenteam prüft\\ den \lk{Antrag}};
\node[bx={38}{5}] (h33) at (885,449.5) {Lieferant wird \lk{gesperrt}};
\node[bx={38}{4}] (h34) at (885,458) {Einkauf wird \lk{informiert}};
\node[bx={38}{6}] (h35) at (885,466) {Sperre wird im System\\ \lk{vermerkt}};
\node[bx={38}{4}] (h36) at (885,475.5) {Protokoll wird \lk{erstellt}};
\node[dec={27}{20}] (h37) at (885,493) {Sperre\\ wirksam?};
\node[endb={42}{8}] (h38) at (885,514) {Lieferant ist gesperrt\\ und dokumentiert};
\draw[arr] (h30) -- (h31);
\draw[arr] (h31) -- node[lbl, above] (lh31) {Ja} (h31r);
\foreach \a/\b in {h31/h32,h32/h33,h33/h34,h34/h35,h35/h36,h36/h37,h37/h38}
  \draw[arr] (\a) -- (\b);
\draw[arr] (h37.east) -- node[lbl, above] (lh37) {Nein} ++(8,0) |- (h32.east);
\node[lane=106] (l7f) at (851,452) {Sperrung};
\end{tikzpicture}
\end{document}
